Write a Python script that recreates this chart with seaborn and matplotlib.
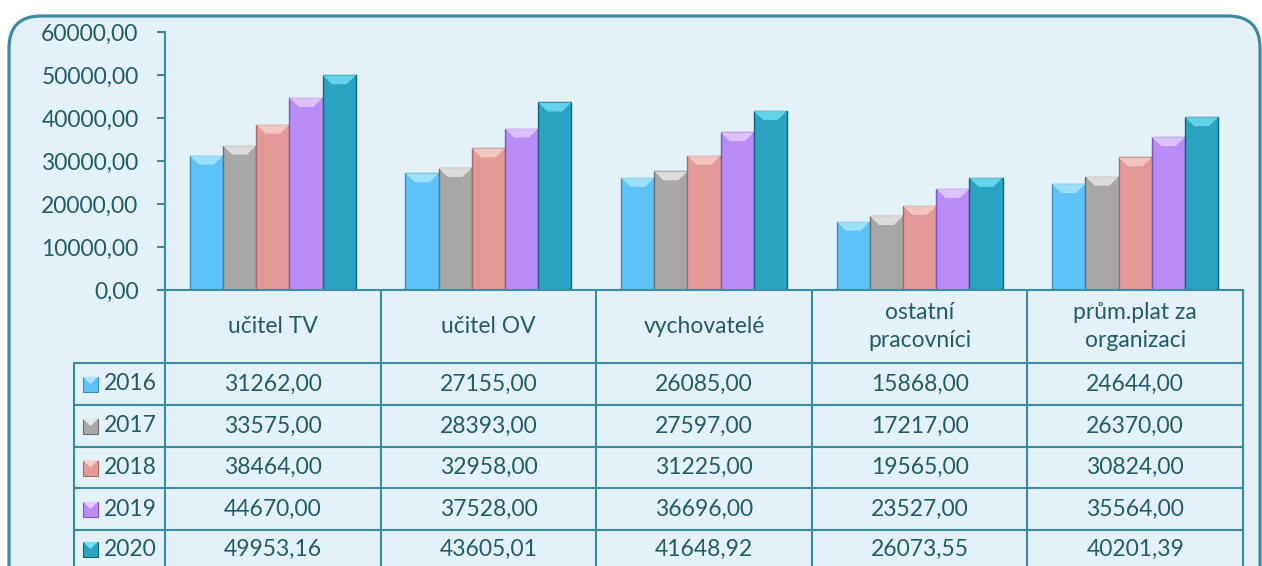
import matplotlib
matplotlib.use("Agg")
import matplotlib.pyplot as plt
from matplotlib.patches import FancyBboxPatch, Rectangle, Polygon
import seaborn as sns
import pandas as pd

categories = ["učitel TV", "učitel OV", "vychovatelé", "ostatní\npracovníci", "prům.plat za\norganizaci"]
years = ["2016", "2017", "2018", "2019", "2020"]
v2016 = [31262.00, 27155.00, 26085.00, 15868.00, 24644.00]
v2017 = [33575.00, 28393.00, 27597.00, 17217.00, 26370.00]
v2018 = [38464.00, 32958.00, 31225.00, 19565.00, 30824.00]
v2019 = [44670.00, 37528.00, 36696.00, 23527.00, 35564.00]
v2020 = [49953.16, 43605.01, 41648.92, 26073.55, 40201.39]
yticks = [0, 10000, 20000, 30000, 40000, 50000, 60000]

series = [v2016, v2017, v2018, v2019, v2020]
colors = ["#5ec3fb", "#a8a8a8", "#e39a97", "#b98cf7", "#2aa2c2"]
edges = ["#3a8fc0", "#6f6f6f", "#a86864", "#7d58b8", "#15627a"]
tops = ["#a8e6ff", "#e6e6e6", "#f7cdca", "#e2ccff", "#6fdcf2"]

rows = []
for y, vals in zip(years, series):
    for c, v in zip(categories, vals):
        rows.append({"kat": c, "rok": y, "plat": v})
df = pd.DataFrame(rows)

def fmt(v):
    return f"{v:.2f}".replace(".", ",")

sns.set_style("white")
plt.rcParams["font.family"] = ["Lato", "DejaVu Sans"]

TXT = "#235c69"
LINE = "#3b8ba2"
BG = "#e3f2f8"
FS = 16.5

W, H = 1262, 566
fig = plt.figure(figsize=(W / 100, H / 100), dpi=100)

# overlay in pixel coordinates for frame + table
bg = fig.add_axes([0, 0, 1, 1], zorder=0)
bg.set_xlim(0, W)
bg.set_ylim(H, 0)
bg.axis("off")
bg.add_patch(FancyBboxPatch((9, 16), 1251, 620, boxstyle="round,pad=0,rounding_size=32",
                            facecolor=BG, edgecolor=LINE, linewidth=2.3))

# chart area
x0, x1, ytop, ybase = 165, 1243, 32, 290
ax = fig.add_axes([x0 / W, 1 - ybase / H, (x1 - x0) / W, (ybase - ytop) / H], zorder=2)
ax.patch.set_alpha(0)
sns.barplot(data=df, x="kat", y="plat", hue="rok", palette=colors, width=0.77,
            gap=0, saturation=1, legend=False, ax=ax)
ax.set_ylim(0, 60000)
ax.set_xlim(-0.5, len(categories) - 0.5)
ax.set_yticks(yticks)
ax.set_yticklabels([fmt(t) for t in yticks], fontsize=FS, color=TXT)
ax.set_xticks([])
ax.set_xlabel("")
ax.set_ylabel("")
ax.tick_params(axis="y", direction="out", length=6, width=1.5, color=LINE, pad=13, left=True)
for s in ["top", "right"]:
    ax.spines[s].set_visible(False)
for s in ["left", "bottom"]:
    ax.spines[s].set_color(LINE)
    ax.spines[s].set_linewidth(1.5)

# bevel look on the bars
depth = 60000 / (ybase - ytop) * 9
for i, p in enumerate(ax.patches):
    k = i // len(categories)
    if k >= len(colors):
        break
    p.set_edgecolor(edges[k])
    p.set_linewidth(1.0)
    bx, bw, bh = p.get_x(), p.get_width(), p.get_height()
    ax.add_patch(Polygon([(bx, bh), (bx + bw, bh), (bx + bw * 0.72, bh - depth),
                          (bx + bw * 0.28, bh - depth)], closed=True,
                         facecolor=tops[k], edgecolor="none", alpha=0.85))

# table
colw = (x1 - x0) / len(categories)
row_edges = [ybase, 363, 405, 447, 488, 530, 600]
lx = 74
bg.plot([x0, x0], [ybase, H], color=LINE, lw=1.5)
for j in range(1, len(categories) + 1):
    xx = x0 + j * colw
    bg.plot([xx, xx], [ybase, H], color=LINE, lw=1.5)
bg.plot([lx, lx], [row_edges[1], H], color=LINE, lw=1.5)
for r in row_edges[1:-1]:
    bg.plot([lx, x1], [r, r], color=LINE, lw=1.5)

for j, c in enumerate(categories):
    cx = x0 + (j + 0.5) * colw
    bg.text(cx, (row_edges[0] + row_edges[1]) / 2, c, ha="center", va="center",
            fontsize=FS, color=TXT, linespacing=1.4)

for i, (y, vals) in enumerate(zip(years, series)):
    cy = (row_edges[i + 1] + row_edges[i + 2]) / 2
    if i == len(years) - 1:
        cy = (row_edges[i + 1] + H) / 2 + 1
    bg.add_patch(Rectangle((83, cy - 7), 15, 15, facecolor=colors[i], edgecolor=edges[i], lw=0.8))
    bg.add_patch(Polygon([(83, cy - 7), (98, cy - 7), (90.5, cy)], closed=True,
                         facecolor=tops[i], edgecolor="none"))
    bg.text(104, cy, y, ha="left", va="center", fontsize=FS, color=TXT)
    for j, v in enumerate(vals):
        cx = x0 + (j + 0.5) * colw
        bg.text(cx, cy, fmt(v), ha="center", va="center", fontsize=FS, color=TXT)

fig.savefig("out.png", dpi=100, facecolor="white")
